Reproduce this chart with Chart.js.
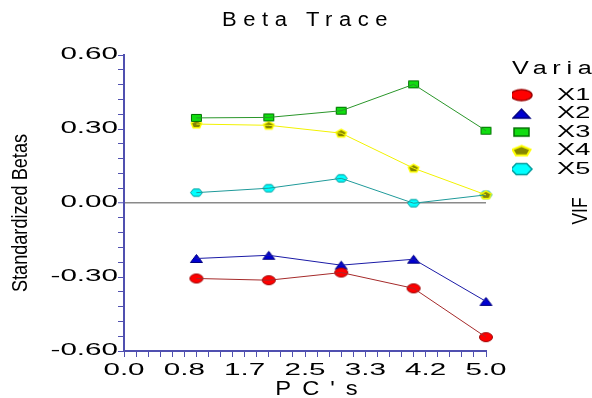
<!DOCTYPE html>
<html>
<head>
<meta charset="utf-8">
<title>Beta Trace</title>
<script src="https://cdn.jsdelivr.net/npm/chart.js@4/dist/chart.umd.min.js"></script>
<style>
  html, body { margin: 0; padding: 0; background: #fff; overflow: hidden; }
  #wrap { position: relative; width: 662px; height: 398px; }
</style>
</head>
<body>
<div id="wrap"><canvas id="betaChart"></canvas></div>
<script>
// values
var pcs = [1, 2, 3, 4, 5];
var names = ['X1', 'X2', 'X3', 'X4', 'X5'];
var x1 = [-0.306, -0.313, -0.282, -0.346, -0.544];
var x2 = [-0.225, -0.212, -0.252, -0.228, -0.399];
var x3 = [0.345, 0.347, 0.374, 0.481, 0.293];
var x4 = [0.320, 0.315, 0.283, 0.141, 0.033];
var x5 = [0.042, 0.060, 0.100, -0.001, 0.033];
var xTickLabels = ['0.0', '0.8', '1.7', '2.5', '3.3', '4.2', '5.0'];
var yTickLabels = ['-0.60', '-0.30', '0.00', '0.30', '0.60'];

var AXIS = '#5050b0';
var FONT = '"Liberation Sans", Arial, sans-serif';
var LEGEND_W = 150;

// the original text is drawn wide: [horizontal stretch, letter spacing, x shift] by font size
var STRETCH = {
    16: [1.85, 0, 0],     // tick labels
    17: [1.6, 0, 0],      // legend labels
    18: [1.4, 5.7, 0],    // legend title
    20: [1.1, 6.5, 3],    // chart title
    21: [1.13, 11, 17]    // x axis title
};

function stretchText(ctx) {
    var fill = ctx.fillText;
    ctx.fillText = function (text, x, y) {
        var m = this.font.match(/([\d.]+)px/);
        var st = m && STRETCH[parseFloat(m[1])];
        if (!st) return fill.apply(this, arguments);
        this.save();
        this.translate(x + st[2], y);
        this.scale(st[0], 1);
        this.letterSpacing = (st[1] / st[0]) + 'px';
        fill.call(this, text, 0, 0);
        this.restore();
    };
}

function makeMark(shape, w, h, fill, stroke, lw, boxW, shiftX) {
    var cw = boxW || Math.ceil(w + lw + 2);
    var ch = Math.ceil(h + lw + 2);
    var c = document.createElement('canvas');
    c.width = cw;
    c.height = ch;
    var g = c.getContext('2d');
    var cx = cw / 2 + (shiftX || 0), cy = ch / 2, rx = w / 2, ry = h / 2;
    g.beginPath();
    if (shape === 'ellipse') {
        g.ellipse(cx, cy, rx, ry, 0, 0, Math.PI * 2);
    } else if (shape === 'triangle') {
        g.moveTo(cx, cy - ry);
        g.lineTo(cx + rx, cy + ry);
        g.lineTo(cx - rx, cy + ry);
    } else if (shape === 'square') {
        g.rect(cx - rx, cy - ry, w, h);
    } else {
        var n = shape === 'pentagon' ? 5 : 6;
        var a0 = n === 5 ? -Math.PI / 2 : 0;
        var dy = n === 5 ? ry * 0.1 : 0;
        for (var k = 0; k < n; k++) {
            var a = a0 + k * 2 * Math.PI / n;
            var px = cx + rx * Math.cos(a), py = cy + dy + ry * 1.05 * Math.sin(a);
            if (k === 0) g.moveTo(px, py); else g.lineTo(px, py);
        }
    }
    g.closePath();
    g.fillStyle = fill;
    g.fill();
    g.lineWidth = lw;
    g.strokeStyle = stroke;
    g.stroke();
    return c;
}

var series = [x1, x2, x3, x4, x5];
var lineColors = ['#a52a2a', '#1a1aa6', '#2a962a', '#f2f200', '#1f9a9a'];
var markSpec = [
    ['ellipse', '#ff0000', '#9b0000', 1],
    ['triangle', '#0000d0', '#000080', 1],
    ['square', '#10dd10', '#007000', 1],
    ['pentagon', '#858500', '#ffff00', 1.5],
    ['hexagon', '#00ffff', '#009c9c', 1]
];
var pointSize = [[13, 9], [12, 8], [10, 7], [11, 8], [12, 8]];
var legendSize = [[21, 11], [17, 9], [15, 8], [19, 10], [21, 12]];

var pointMarks = markSpec.map(function (s, i) {
    return makeMark(s[0], pointSize[i][0], pointSize[i][1], s[1], s[2], s[3]);
});
var legendMarks = markSpec.map(function (s, i) {
    return makeMark(s[0], legendSize[i][0], legendSize[i][1], s[1], s[2], s[3] + 0.5, 40, -9.5);
});

var datasets = [];
series.forEach(function (vals, i) {
    var pts = pcs.map(function (x, j) { return { x: x, y: vals[j] }; });
    // connecting line, drawn over the markers
    datasets.push({
        label: names[i] + ' line',
        data: pts,
        borderColor: lineColors[i],
        borderWidth: 1,
        pointRadius: 0,
        fill: false,
        clip: false,
        order: 0
    });
    datasets.push({
        label: names[i],
        data: pts,
        showLine: false,
        pointStyle: pointMarks[i],
        pointRadius: 6,
        clip: false,
        order: 1
    });
});

var fixLegend = {
    id: 'fixLegend',
    beforeLayout: function (chart) {
        var lg = chart.legend;
        if (lg && !lg._fixed) {
            var fit = lg.fit;
            lg.fit = function () { fit.call(this); this.width = LEGEND_W; };
            lg._fixed = true;
        }
    }
};

var sideTitles = {
    id: 'sideTitles',
    afterDraw: function (chart) {
        var ctx = chart.ctx, area = chart.chartArea;
        function rotated(text, x, y, maxW) {
            ctx.save();
            ctx.translate(x, y);
            ctx.rotate(-Math.PI / 2);
            ctx.fillText(text, 0, 0, maxW);
            ctx.restore();
        }
        ctx.save();
        ctx.font = '22px ' + FONT;
        ctx.fillStyle = '#000';
        ctx.textAlign = 'center';
        ctx.textBaseline = 'middle';
        rotated('Standardized Betas', 21, (area.top + area.bottom) / 2 + 10, 158);
        rotated('VIF', 581, 211, 27);
        ctx.restore();
    }
};

Chart.defaults.font.family = FONT;
Chart.defaults.color = '#000';

var canvas = document.getElementById('betaChart');
var ctx = canvas.getContext('2d');
stretchText(ctx);

new Chart(ctx, {
    type: 'line',
    data: { datasets: datasets },
    plugins: [fixLegend, sideTitles],
    options: {
        responsive: true,
        maintainAspectRatio: false,
        animation: false,
        events: [],
        layout: { padding: 0, autoPadding: false },
        scales: {
            x: {
                type: 'linear',
                min: 0,
                max: 5,
                afterFit: function (s) { s.height = 47; },
                border: { color: AXIS, width: 2 },
                grid: { drawOnChartArea: false, tickColor: AXIS, tickLength: 6, tickWidth: 1 },
                ticks: {
                    count: 31,
                    autoSkip: false,
                    maxRotation: 0,
                    padding: 4,
                    color: '#000',
                    font: { size: 16 },
                    callback: function (v, i) { return i % 5 === 0 ? xTickLabels[i / 5] : ''; }
                },
                title: {
                    display: true,
                    text: "PC's",
                    color: '#000',
                    font: { size: 21, lineHeight: 0.85 },
                    padding: 0
                }
            },
            y: {
                min: -0.6,
                max: 0.6,
                afterFit: function (s) { s.width = 124; },
                border: { color: AXIS, width: 2 },
                grid: {
                    drawOnChartArea: true,
                    color: function (c) { return c.index === 10 ? '#8a8a8a' : 'rgba(0,0,0,0)'; },
                    lineWidth: function (c) { return c.index === 10 ? 1.5 : 1; },
                    tickColor: AXIS,
                    tickLength: 6,
                    tickWidth: 1
                },
                ticks: {
                    count: 21,
                    autoSkip: false,
                    padding: 0,
                    color: '#000',
                    font: { size: 16 },
                    callback: function (v, i) { return i % 5 === 0 ? yTickLabels[i / 5] : ''; }
                }
            },
            gap: {
                position: 'right',
                afterFit: function (s) { s.width = 26; },
                border: { display: false },
                grid: { display: false, drawTicks: false },
                ticks: { display: false }
            }
        },
        plugins: {
            title: {
                display: true,
                text: 'Beta Trace',
                fullSize: false,
                color: '#000',
                font: { size: 20, weight: 'normal', lineHeight: 1.2 },
                padding: { top: 8, bottom: 23 }
            },
            legend: {
                position: 'right',
                align: 'start',
                fullSize: false,
                title: {
                    display: true,
                    text: 'Variables',
                    position: 'start',
                    color: '#000',
                    font: { size: 18 },
                    padding: { top: 5.5, bottom: 3 }
                },
                labels: {
                    usePointStyle: true,
                    pointStyleWidth: 35,
                    padding: 1.5,
                    color: '#000',
                    font: { size: 17 },
                    generateLabels: function () {
                        return names.map(function (n, i) {
                            return {
                                text: n,
                                pointStyle: legendMarks[i],
                                fillStyle: 'rgba(0,0,0,0)',
                                strokeStyle: 'rgba(0,0,0,0)',
                                lineWidth: 0,
                                hidden: false,
                                datasetIndex: i * 2 + 1
                            };
                        });
                    }
                }
            },
            tooltip: { enabled: false }
        }
    }
});
</script>
</body>
</html>
